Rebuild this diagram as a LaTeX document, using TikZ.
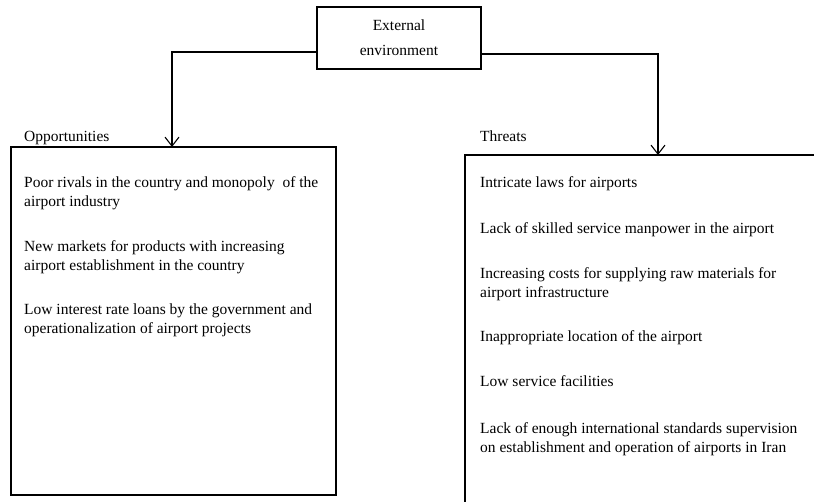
\documentclass[tikz,border=0pt]{standalone}
\usepackage{fontspec}
\setmainfont{Liberation Serif}
\usetikzlibrary{arrows.meta,positioning}

\begin{document}
\begin{tikzpicture}[x=1pt,y=-1pt,
        box/.style={rectangle,draw,line width=1.2pt,inner sep=0pt},
        arr/.style={-{Straight Barb[length=9pt,width=14pt]},line width=1.1pt},
        item/.style={anchor=base west,align=left,inner sep=0pt,
                     font=\fontsize{15.5}{19}\selectfont},
        head/.style={anchor=base west,inner sep=0pt,
                     font=\fontsize{15.5}{19}\selectfont}]
        \useasboundingbox (0,0) rectangle (814,502);
        % boxes
        \node[box,minimum width=164pt,minimum height=62pt,align=center,
              font=\fontsize{15.5}{25}\selectfont] (ext) at (399,38) {External\\environment};
        \node[box,minimum width=325pt,minimum height=348pt] (opp) at (173.5,321) {};
        \node[box,minimum width=365pt,minimum height=420pt] (thr) at (647.5,365) {};
        \coordinate (oppin) at (172,147);
        \coordinate (thrin) at (658,155);
        % headings
        \node[head] (opph) at (24,142) {Opportunities};
        \node[head] (thrh) at (480,142) {Threats};
        % opportunities (base = last line)
        \node[item] (o1) at (24,207) {Poor rivals in the country and monopoly\ \ of the\\airport industry};
        \node[item] (o2) at (24,271) {New markets for products with increasing\\airport establishment in the country};
        \node[item] (o3) at (24,334) {Low interest rate loans by the government and\\operationalization of airport projects};
        % threats
        \node[item] (t1) at (480,188) {Intricate laws for airports};
        \node[item] (t2) at (480,234) {Lack of skilled service manpower in the airport};
        \node[item] (t3) at (480,298) {Increasing costs for supplying raw materials for\\airport infrastructure};
        \node[item] (t4) at (480,342) {Inappropriate location of the airport};
        \node[item] (t5) at (480,387) {Low service facilities};
        \node[item] (t6) at (480,452) {Lack of enough international standards supervision\\on establishment and operation of airports in Iran};
        % connectors
        \draw[arr] ([yshift=-14pt]ext.west) -| (oppin);
        \draw[arr] ([yshift=-16pt]ext.east) -| (thrin);
      \end{tikzpicture}
\end{document}
